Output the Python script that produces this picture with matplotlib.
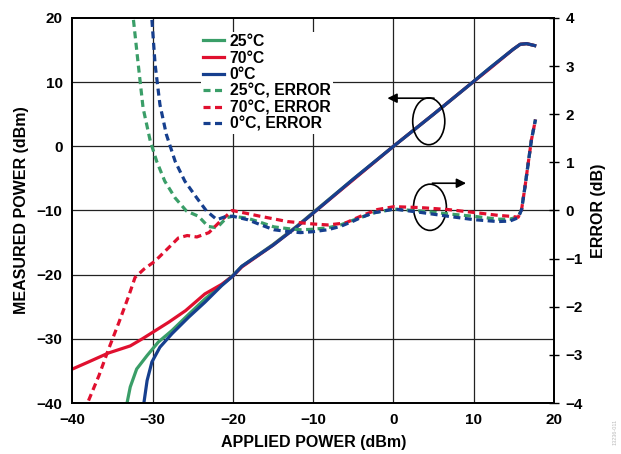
import matplotlib
matplotlib.use("Agg")
import matplotlib.pyplot as plt
from matplotlib.patches import Ellipse

plt.rcParams["font.family"] = ["Liberation Sans", "DejaVu Sans"]
plt.rcParams["font.weight"] = "bold"
plt.rcParams["lines.solid_joinstyle"] = "round"
plt.rcParams["lines.dash_joinstyle"] = "round"

GREEN = "#3a9e68"
RED = "#e0102f"
BLUE = "#163f8e"

# measured power (dBm) vs applied power (dBm)
x_25 = [-33.2, -32.8, -32.0, -30.7, -29.3, -27.6, -25.7, -23.5, -21.4, -20.0, -18.9, -15.0, -12.0, -10.0, -5.0, 0.0, 5.0, 9.5, 12.0, 14.9, 15.8, 16.6, 17.6]
y_25 = [-40.0, -37.5, -34.7, -32.6, -30.5, -28.7, -26.4, -23.8, -21.6, -20.1, -18.7, -15.3, -12.4, -10.3, -5.1, 0.0, 5.0, 9.6, 12.2, 15.1, 15.9, 16.0, 15.7]

x_70 = [-40.0, -38.0, -35.5, -32.8, -31.3, -29.9, -28.0, -25.9, -23.5, -21.4, -20.0, -18.9, -15.0, -12.0, -10.0, -5.0, 0.0, 5.0, 9.5, 12.0, 14.9, 15.8, 16.6, 17.6]
y_70 = [-34.7, -33.6, -32.2, -31.1, -30.0, -28.9, -27.4, -25.6, -23.0, -21.5, -20.2, -18.8, -15.4, -12.5, -10.4, -5.2, 0.0, 5.0, 9.6, 12.1, 15.1, 15.9, 16.0, 15.7]

x_0 = [-31.1, -30.7, -30.1, -29.1, -27.6, -25.5, -23.5, -21.4, -20.0, -18.9, -15.0, -12.0, -10.0, -5.0, 0.0, 5.0, 9.5, 12.0, 14.9, 15.8, 16.6, 17.6]
y_0 = [-40.0, -36.5, -33.6, -31.3, -29.2, -26.6, -24.3, -21.7, -20.2, -18.7, -15.4, -12.5, -10.4, -5.1, 0.0, 5.0, 9.6, 12.2, 15.1, 15.9, 16.0, 15.7]

# error (dB)
ex_25 = [-32.4, -31.8, -31.2, -30.3, -29.5, -28.5, -27.2, -25.8, -24.3, -23.1, -22.0, -20.8, -20.0, -18.2, -16.5, -14.9, -13.0, -11.6, -10.0, -8.2, -6.6, -5.0, -2.5, 0.0, 3.4, 6.8, 10.0, 13.0, 14.5, 15.55, 15.97, 16.4, 16.8, 17.2, 17.7]
ey_25 = [3.96, 3.03, 2.13, 1.44, 1.02, 0.61, 0.26, -0.01, -0.12, -0.33, -0.36, -0.15, -0.12, -0.16, -0.25, -0.34, -0.38, -0.40, -0.39, -0.36, -0.30, -0.20, -0.05, 0.03, -0.01, -0.07, -0.12, -0.18, -0.18, -0.13, 0.02, 0.5, 0.99, 1.47, 1.89]

ex_70 = [-38.0, -36.7, -35.5, -34.2, -33.0, -32.2, -31.1, -29.7, -28.0, -26.8, -25.7, -24.5, -23.0, -21.8, -20.1, -18.3, -16.6, -13.2, -10.0, -8.2, -6.0, -4.1, -2.0, 0.1, 3.4, 6.8, 10.0, 13.0, 14.5, 15.55, 15.97, 16.4, 16.8, 17.2, 17.7]
ey_70 = [-3.95, -3.43, -2.88, -2.32, -1.78, -1.39, -1.22, -1.05, -0.77, -0.57, -0.52, -0.55, -0.46, -0.26, 0.0, -0.06, -0.12, -0.23, -0.28, -0.30, -0.26, -0.12, 0.02, 0.08, 0.06, 0.02, -0.04, -0.10, -0.12, -0.14, 0.02, 0.5, 0.99, 1.47, 1.89]

ex_0 = [-30.1, -29.7, -29.1, -28.3, -27.2, -26.0, -24.5, -23.3, -22.0, -20.8, -20.0, -18.2, -16.5, -14.9, -13.0, -11.6, -10.0, -8.2, -6.6, -5.0, -4.1, -2.5, 0.1, 3.4, 6.8, 10.0, 13.0, 14.5, 15.55, 15.97, 16.4, 16.8, 17.2, 17.7]
ey_0 = [3.96, 3.03, 2.2, 1.58, 1.02, 0.61, 0.26, -0.01, -0.19, -0.12, -0.12, -0.19, -0.30, -0.40, -0.44, -0.46, -0.44, -0.40, -0.33, -0.22, -0.15, -0.05, 0.03, -0.04, -0.12, -0.19, -0.23, -0.22, -0.15, 0.02, 0.5, 0.99, 1.47, 1.89]

fig = plt.figure(figsize=(6.21, 4.54), dpi=100)
ax = fig.add_axes([0.1167, 0.1123, 0.7753, 0.8481])
ax2 = ax.twinx()

ax.set_xlim(-40, 20)
ax.set_ylim(-40, 20)
ax2.set_ylim(-4, 4)
ax.set_xticks(range(-40, 21, 10))
ax.set_yticks(range(-40, 21, 10))
ax2.set_yticks(range(-4, 5, 1))

for v in range(-30, 20, 10):
    ax.axvline(v, color="#222222", lw=0.9, zorder=0)
for h in range(-30, 20, 10):
    ax.axhline(h, color="#222222", lw=0.9, zorder=0)

lw = 2.3
l1, = ax.plot(x_25, y_25, color=GREEN, lw=lw, label="25°C")
l2, = ax.plot(x_70, y_70, color=RED, lw=lw, label="70°C")
l3, = ax.plot(x_0, y_0, color=BLUE, lw=lw, label="0°C")

dash = (2.2, 1.4)
l4, = ax2.plot(ex_25, ey_25, color=GREEN, lw=lw, dashes=dash, label="25°C, ERROR")
l5, = ax2.plot(ex_70, ey_70, color=RED, lw=lw, dashes=dash, label="70°C, ERROR")
l6, = ax2.plot(ex_0, ey_0, color=BLUE, lw=lw, dashes=dash, label="0°C, ERROR")

leg = ax2.legend(handles=[l1, l2, l3, l4, l5, l6], loc="upper left",
                 bbox_to_anchor=(0.25, 0.985), frameon=True, fancybox=False,
                 edgecolor="white", framealpha=1, fontsize=11.3,
                 handlelength=1.35, handletextpad=0.35, labelspacing=0.1,
                 borderpad=0.15)
leg.get_frame().set_linewidth(0)

# circled annotations with arrows
ax.add_patch(Ellipse((4.4, 3.9), 4.0, 7.3, fill=False, color="black", lw=1.2, zorder=5))
ax.add_patch(Ellipse((4.55, -9.5), 4.1, 7.2, fill=False, color="black", lw=1.2, zorder=5))
ax.annotate("", xy=(-1.1, 7.5), xytext=(5.4, 7.5),
            arrowprops=dict(arrowstyle="-|>", color="black", lw=1.2, mutation_scale=14))
ax.annotate("", xy=(9.4, -5.75), xytext=(4.5, -5.75),
            arrowprops=dict(arrowstyle="-|>", color="black", lw=1.2, mutation_scale=14))

ax.tick_params(axis="both", length=0, pad=7, labelsize=11)
ax2.tick_params(axis="y", direction="inout", length=7, width=1, pad=5, labelsize=11)
for s in ax.spines.values():
    s.set_linewidth(1.3)
for s in ax2.spines.values():
    s.set_linewidth(1.3)

ax.set_xlabel("APPLIED POWER (dBm)", fontsize=11.5, fontweight="bold", labelpad=6)
ax.set_ylabel("MEASURED POWER (dBm)", fontsize=11.5, fontweight="bold", labelpad=6)
ax2.set_ylabel("ERROR (dB)", fontsize=11.5, fontweight="bold", labelpad=6)

fig.text(0.995, 0.02, "13236-011", rotation=90, fontsize=4, color="#bbbbbb",
         ha="right", va="bottom", fontweight="normal")

fig.savefig("out.png", dpi=100)
